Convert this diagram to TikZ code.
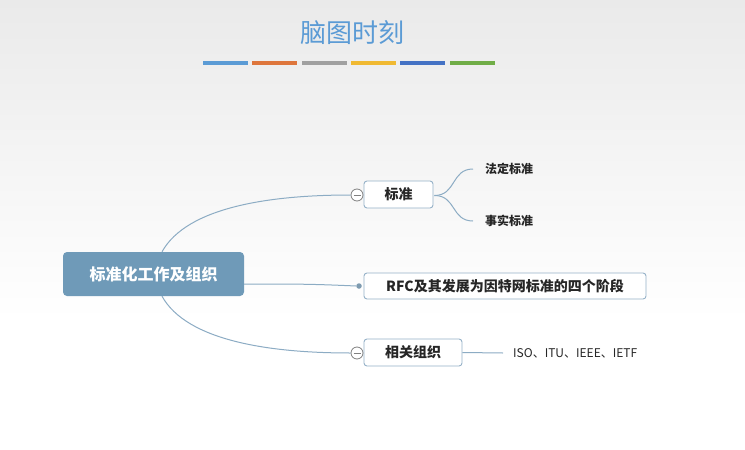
\documentclass[tikz,border=0pt]{standalone}
\usepackage{fontspec}
\setmainfont{Noto Sans CJK SC}
\newfontfamily\cjk{Noto Sans CJK SC}
\definecolor{titleblue}{RGB}{91,155,213}
\definecolor{barblue}{RGB}{91,155,213}
\definecolor{barorange}{RGB}{222,118,60}
\definecolor{bargray}{RGB}{160,160,160}
\definecolor{baryellow}{RGB}{240,185,50}
\definecolor{bardarkblue}{RGB}{68,114,196}
\definecolor{bargreen}{RGB}{112,173,71}
\definecolor{rootfill}{RGB}{111,154,184}
\definecolor{linkc}{RGB}{140,172,196}
\definecolor{boxborder}{RGB}{150,178,200}
\definecolor{bgtop}{RGB}{234,234,234}
\tikzset{
  bar/.style={minimum width=45pt,minimum height=4.5pt,inner sep=0pt},
  rootbox/.style={fill=rootfill,rounded corners=4pt,minimum width=181pt,minimum height=44pt,inner sep=0pt,text=white,font=\cjk\bfseries\fontsize{16}{16}\selectfont},
  topicbox/.style={draw=boxborder,line width=0.9pt,fill=white,rounded corners=3pt,inner sep=0pt,font=\cjk\bfseries\fontsize{14}{14}\selectfont,text=black!85},
  subtxt/.style={inner sep=0pt,font=\cjk\bfseries\fontsize{12}{12}\selectfont,text=black!85},
  link/.style={draw=linkc,line width=1pt},
  fold/.style={circle,draw=gray,fill=white,line width=0.8pt,minimum size=12pt,inner sep=0pt}
}
\begin{document}
\begin{tikzpicture}[x=1pt,y=-1pt]
\useasboundingbox (0,0) rectangle (745,450);
\shade[top color=bgtop,bottom color=white] (0,0) rectangle (745,320);
\fill[white] (0,320) rectangle (745,450);
% title
\node[text=titleblue,font=\cjk\fontsize{26}{28}\selectfont,inner sep=0pt] (title) at (352,33) {脑图时刻};
\node[bar,fill=barblue] (b1) at (225.5,63) {};
\node[bar,fill=barorange] (b2) at (274,63) {};
\node[bar,fill=bargray] (b3) at (324,63) {};
\node[bar,fill=baryellow] (b4) at (373,63) {};
\node[bar,fill=bardarkblue] (b5) at (422,63) {};
\node[bar,fill=bargreen] (b6) at (472,63) {};
% nodes
\node[rootbox] (root) at (153.5,274) {标准化工作及组织};
\node[topicbox,minimum width=69pt,minimum height=27pt] (std) at (398.5,194.5) {标准};
\node[topicbox,minimum width=282pt,minimum height=26pt] (rfc) at (505,286) {RFC及其发展为因特网标准的四个阶段};
\node[topicbox,minimum width=98pt,minimum height=27pt] (org) at (413,352.5) {相关组织};
\node[subtxt,anchor=west] (law) at (485,169) {法定标准};
\node[subtxt,anchor=west] (fact) at (485,221) {事实标准};
\node[inner sep=0pt,font=\fontsize{12}{13}\selectfont,text=black!85,anchor=west] (isos) at (513,353) {ISO、ITU、IEEE、IETF};
% fold markers
\node[fold] (f1) at (357,195) {};
\node[fold] (f2) at (357,353) {};
\draw[gray,line width=0.8pt] ([xshift=-3.5pt]f1.center) -- ([xshift=3.5pt]f1.center);
\draw[gray,line width=0.8pt] ([xshift=-3.5pt]f2.center) -- ([xshift=3.5pt]f2.center);
\node[circle,fill=linkc!90!black,minimum size=5.5pt,inner sep=0pt] (dot) at (359,286) {};
% connectors
\draw[link] ([xshift=8.5pt]root.north) .. controls +(25,-45) and +(-80,0) .. (f1.west);
\draw[link] ([xshift=8.5pt]root.south) .. controls +(25,45) and +(-80,0) .. (f2.west);
\draw[link] ([yshift=-10pt]root.east) .. controls +(55,0) and +(-45,-2) .. (dot.west);
\draw[link] ([xshift=1pt,yshift=-1pt]std.east) .. controls +(22,0) and +(-22,0) .. ([xshift=-12pt]law.west);
\draw[link] ([xshift=1pt,yshift=-1pt]std.east) .. controls +(22,0) and +(-22,0) .. ([xshift=-12pt]fact.west);
\draw[link] (org.east) -- ([xshift=-10pt]isos.west);
\end{tikzpicture}
\end{document}
